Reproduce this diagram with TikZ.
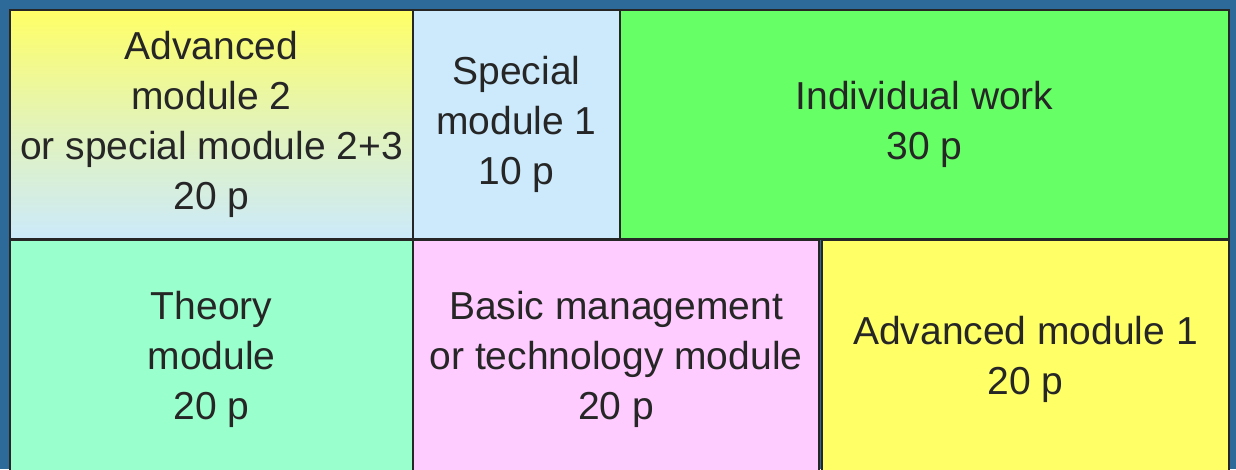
\documentclass[tikz,border=0pt]{standalone}
\usepackage{fontspec}
\setmainfont{Liberation Sans}
\begin{document}
\begin{tikzpicture}[x=1pt,y=-1pt,
  module/.style={draw=black!85, line width=2.4pt, inner sep=0pt, align=center,
    text=black!85, font=\fontsize{39}{50}\selectfont},
  pinkfill/.style={fill=modpink},
]
\definecolor{bgblue}{HTML}{2D6A9A}
\definecolor{modyellow}{HTML}{FFFF66}
\definecolor{modsky}{HTML}{CCEAFB}
\definecolor{modgreen}{HTML}{66FF66}
\definecolor{modmint}{HTML}{99FFCC}
\definecolor{modpink}{HTML}{FFCCFF}
% canvas
\fill[bgblue] (0,0) rectangle (1236,469);
\useasboundingbox (0,0) rectangle (1236,469);
% upper row
\node[module, shade, top color=modyellow, bottom color=modsky, middle color=modyellow!45!modsky,
  minimum width=403pt, minimum height=229pt] (adv2) at (211.5,124.5)
  {Advanced\\module 2\\or special module 2+3\\20 p};
\node[module, fill=modsky, minimum width=207pt, minimum height=229pt] (spec1) at (516.5,124.5)
  {Special\\module 1\\10 p};
\node[module, fill=modgreen, minimum width=609pt, minimum height=229pt] (indiv) at (924.5,124.5)
  {Individual work\\30 p};
% lower row
\node[module, fill=modmint, minimum width=403pt, minimum height=238pt] (theory) at (211.5,359)
  {Theory\\module\\20 p};
\node[module, pinkfill, minimum width=406pt, minimum height=238pt] (basic) at (616,359)
  {Basic management\\or technology module\\20 p};
\node[module, fill=modyellow, minimum width=407pt, minimum height=238pt] (adv1) at (1025.5,359)
  {Advanced module 1\\20 p};
\end{tikzpicture}
\end{document}
